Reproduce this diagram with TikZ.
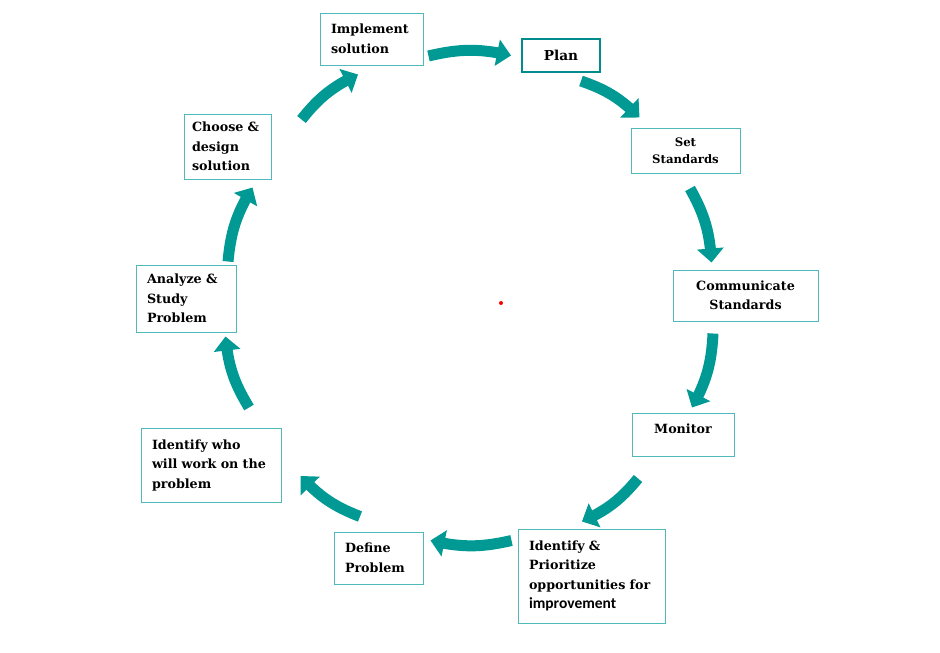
\documentclass[tikz,border=0pt]{standalone}
\usepackage{fontspec}
\setmainfont{DejaVu Serif}
\newfontfamily\calibfont{Carlito}
\usetikzlibrary{arrows.meta, calc, bending}

\definecolor{cyclearrow}{RGB}{0,153,148}
\definecolor{stageline}{RGB}{80,185,188}
\definecolor{planline}{RGB}{0,140,140}

\tikzset{
  stage/.style={draw=stageline, line width=1pt, text=black, align=left,
    font=\bfseries\fontsize{12.7}{19.5}\selectfont, inner xsep=10.5pt, inner ysep=0pt},
  cyc/.style={draw=cyclearrow, line width=11pt,
    -{Triangle[length=14pt,width=26pt]}, bend left=13},
}

\begin{document}
\begin{tikzpicture}[x=1pt, y=-1pt]
  \useasboundingbox (0,0) rectangle (940,653);
  % the stages, clockwise from the top
  \node[stage, minimum width=103pt, minimum height=52pt, text width=81pt] (impl) at (371.5,39) {Implement\\solution};
  \node[stage, draw=planline, line width=2pt, align=center, minimum width=78pt, minimum height=33pt,
    font=\bfseries\fontsize{13.7}{16}\selectfont] (plan) at (561,55.5) {Plan};
  \node[stage, align=center, minimum width=109pt, minimum height=45pt,
    font=\bfseries\fontsize{11.7}{17}\selectfont] (setstd) at (685.5,150.5) {Set\\Standards};
  \node[stage, align=center, minimum width=145pt, minimum height=51pt] (commstd) at (745.5,295.5) {Communicate\\Standards};
  \node[stage, align=center, minimum width=102pt, minimum height=43pt, text depth=12pt] (monitor) at (683,434.5) {Monitor};
  \node[stage, minimum width=147pt, minimum height=94pt, text width=125pt] (prio) at (591.5,576)
    {Identify \&\\Prioritize\\opportunities for\\{\calibfont\fontsize{15.5}{19.5}\selectfont improvement}};
  \node[stage, minimum width=89pt, minimum height=52pt, text width=67pt] (defprob) at (378.5,558) {Define\\Problem};
  \node[stage, minimum width=140pt, minimum height=74pt, text width=118pt] (team) at (211,465) {Identify who\\will work on the\\problem};
  \node[stage, minimum width=100pt, minimum height=67pt, text width=78pt] (analyze) at (186,298.5) {Analyze \&\\Study\\Problem};
  \node[stage, minimum width=87pt, minimum height=65pt, text width=71pt, inner xsep=7.5pt] (choose) at (227.5,146.5) {Choose \&\\design\\solution};

  % the cycle
  \draw[cyc] ([shift={(5,17)}]impl.east) to ([shift={(-10,0)}]plan.west);
  \draw[cyc] ([shift={(-20,8)}]plan.south east) to ([shift={(9,-10)}]setstd.north west);
  \draw[cyc] ([shift={(4.5,15)}]setstd.south) to ([shift={(39,-7)}]commstd.north west);
  \draw[cyc] ([shift={(-32.5,12)}]commstd.south) to ([shift={(9,-5)}]monitor.north);
  \draw[cyc] ([shift={(-45,22)}]monitor.south) to ([shift={(-9.5,-7)}]prio.north);
  \draw[cyc] ([shift={(-6,12)}]prio.north west) to ([shift={(7,9)}]defprob.north east);
  \draw[cyc] ([shift={(-18.5,-15)}]defprob.north) to ([shift={(19,11)}]team.east);
  \draw[cyc] ([shift={(38,-20)}]team.north) to ([shift={(-11,4)}]analyze.south east);
  \draw[cyc] ([shift={(42,-3)}]analyze.north) to ([shift={(25,8)}]choose.south);
  \draw[cyc] ([shift={(30,6)}]choose.north east) to ([shift={(-13.5,9)}]impl.south);

  \fill[red] (501,303) circle (2);
\end{tikzpicture}
\end{document}
